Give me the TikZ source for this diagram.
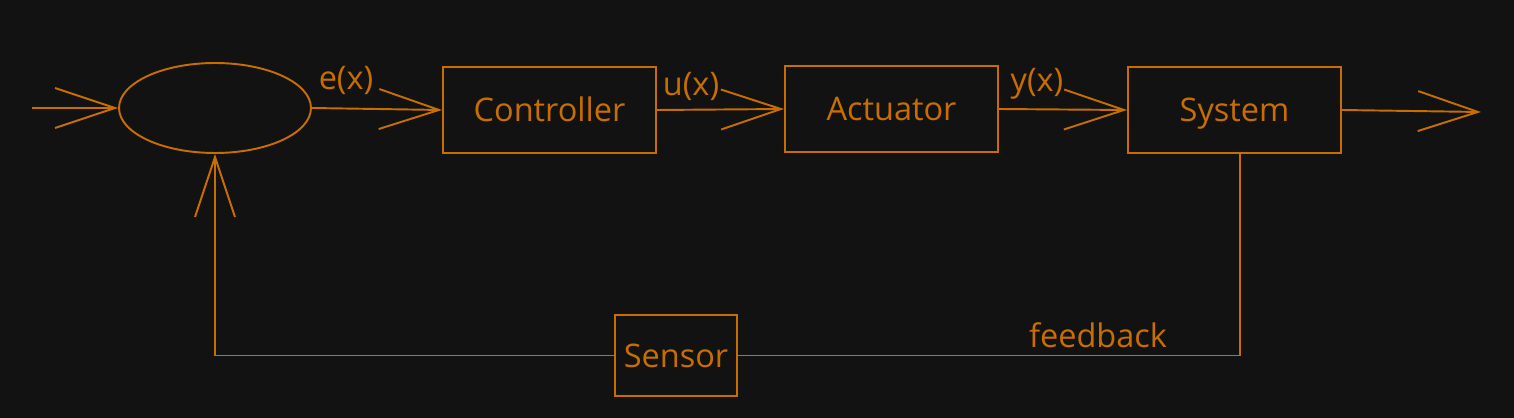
\documentclass[tikz,border=0pt]{standalone}
\usepackage{fontspec}
\setmainfont{Open Sans}
\usetikzlibrary{shapes.geometric,arrows.meta}
\definecolor{darkbg}{RGB}{18,18,18}
\definecolor{amber}{RGB}{200,110,0}

\begin{document}
\begin{tikzpicture}[x=0.02cm,y=-0.02cm,line width=1.1pt,draw=amber,text=amber,font=\fontsize{18.5}{22}\selectfont,block/.style={rectangle,draw=amber,minimum width=4.26cm,minimum height=1.72cm,inner sep=0pt,text height=13.2pt,text depth=0pt}]
\tikzstyle{signal} = [draw=amber,-{Straight Barb[length=1.2cm,width=0.8cm,line width=1.1pt]}]
\tikzstyle{plain line} = [draw=amber]

% Background
\fill[darkbg] (0,0) rectangle (1514,418);

\coordinate (input) at (32,108);
\coordinate (output) at (1481,112);

% Blocks
\node[ellipse,draw=amber,minimum width=3.84cm,minimum height=1.8cm,inner sep=0pt] (sum) at (215,108) {};
\node[block] (ctrl) at (549.5,110) {Controller};
\node[block] (act) at (891.5,109) {Actuator};
\node[block] (sys) at (1234.5,110) {System};
\node[block,minimum width=2.44cm,minimum height=1.62cm] (sens) at (676,355.5) {Sensor};

% Draw forward path
\draw[signal] (input) -- (sum.west);
\draw[signal] (sum.east) -- (ctrl.west);
\draw[signal] (ctrl.east) -- (act.west);
\draw[signal] (act.east) -- (sys.west);
\draw[signal] (sys.east) -- (output);

% Draw feedback path
\draw[plain line] ([xshift=0.11cm]sys.south) |- (sens.east);
\draw[signal] (sens.west) -| (sum.south);

% Labels
\node (elabel) at (346,80) {e(x)};
\node (ulabel) at (691,86) {u(x)};
\node (ylabel) at (1037,84) {y(x)};
\node (fblabel) at (1098,335) {feedback};

\end{tikzpicture}
\end{document}
